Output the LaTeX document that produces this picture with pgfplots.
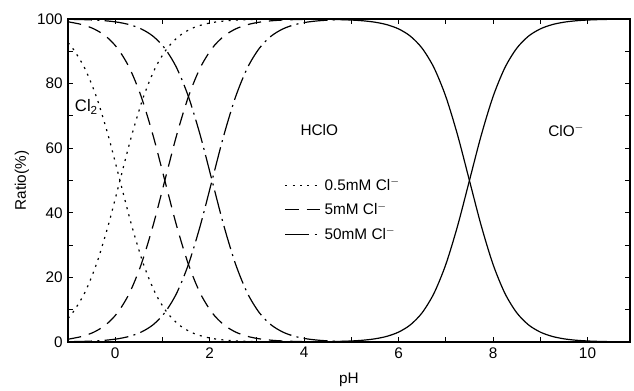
\documentclass[border=0pt]{standalone}
\usepackage{fontspec}
\setmainfont{Liberation Sans}
\usepackage{pgfplots}
\pgfplotsset{compat=1.18}
\begin{document}
\fontsize{11.5}{13}\selectfont
\begin{tikzpicture}
\begin{axis}[
  name=ax,
  scale only axis,
  width=421.5pt, height=242.25pt,
  xmin=-1, xmax=10.9, ymin=0, ymax=100,
  xtick={0,2,4,6,8,10}, minor xtick={-1,1,3,5,7,9},
  ytick={0,20,40,60,80,100}, minor ytick={10,30,50,70,90},
  tick align=inside,
  major tick length=4pt, minor tick length=3.5pt,
  every tick/.style={black, line width=0.8pt},
  axis line style={line width=1pt},
  /pgf/number format/assume math mode=true,
  xlabel={pH}, ylabel={Ratio(\%)},
  xlabel style={at={(axis description cs:0.5,-0.118)}, anchor=center},
  ylabel style={at={(axis description cs:-0.082,0.5)}, anchor=center},
  legend style={at={(axis cs:3.5,52.5)}, anchor=north west, draw=none, fill=none,
     row sep=3.5pt, font=\fontsize{11.5}{13}\selectfont},
  legend cell align=left,
  legend image code/.code={\draw[#1] (0pt,0pt) -- (27pt,0pt);},
  every axis plot/.append style={black, line width=0.9pt, smooth},
]
% 0.5 mM Cl- : Cl2 falling (dotted)
\addplot[dash pattern=on 1.5pt off 4pt] coordinates {
(-1,92.64) (-0.9,90.91) (-0.65,84.90) (-0.4,75.97) (-0.15,64.01) (0.1,50)
(0.35,35.99) (0.6,24.03) (0.85,15.10) (1.1,9.09) (1.35,5.32) (1.6,3.07)
(1.85,1.75) (2.1,0.99) (2.35,0.56) (2.6,0.32) (2.85,0.18) (3.1,0.10)};
\addlegendentry{0.5mM Cl\textsuperscript{$-$}}
% 5 mM Cl- : Cl2 falling (dashed)
\addplot[dash pattern=on 10pt off 6pt] coordinates {
(-1,99.12) (-0.95,99.01) (-0.7,98.25) (-0.45,96.93) (-0.2,94.68) (0.05,90.91)
(0.3,84.90) (0.55,75.97) (0.8,64.01) (1.05,50) (1.3,35.99) (1.55,24.03)
(1.8,15.10) (2.05,9.09) (2.3,5.32) (2.55,3.07) (2.8,1.75) (3.05,0.99)
(3.3,0.56) (3.55,0.32) (3.8,0.18) (4.05,0.10)};
\addlegendentry{5mM Cl\textsuperscript{$-$}}
% 50 mM Cl- : Cl2 falling (dash-dot)
\addplot[dash pattern=on 18pt off 4pt on 1.5pt off 4pt] coordinates {
(-1,99.91) (-0.7,99.82) (-0.45,99.68) (-0.2,99.44) (0.05,99.01) (0.3,98.25)
(0.55,96.93) (0.8,94.68) (1.05,90.91) (1.3,84.90) (1.55,75.97) (1.8,64.01)
(2.05,50) (2.3,35.99) (2.55,24.03) (2.8,15.10) (3.05,9.09) (3.3,5.32)
(3.55,3.07) (3.8,1.75) (4.05,0.99) (4.3,0.56) (4.55,0.32) (4.8,0.18) (5.05,0.10)};
\addlegendentry{50mM Cl\textsuperscript{$-$}}
% HClO rising (dotted)
\addplot[dash pattern=on 1.5pt off 4pt, forget plot] coordinates {
(-1,7.36) (-0.9,9.09) (-0.65,15.10) (-0.4,24.03) (-0.15,35.99) (0.1,50)
(0.35,64.01) (0.6,75.97) (0.85,84.90) (1.1,90.91) (1.35,94.68) (1.6,96.93)
(1.85,98.25) (2.1,99.01) (2.35,99.44) (2.6,99.68) (2.85,99.82) (3.1,99.90)};
% HClO rising (dashed)
\addplot[dash pattern=on 10pt off 6pt, forget plot] coordinates {
(-1,0.88) (-0.95,0.99) (-0.7,1.75) (-0.45,3.07) (-0.2,5.32) (0.05,9.09)
(0.3,15.10) (0.55,24.03) (0.8,35.99) (1.05,50) (1.3,64.01) (1.55,75.97)
(1.8,84.90) (2.05,90.91) (2.3,94.68) (2.55,96.93) (2.8,98.25) (3.05,99.01)
(3.3,99.44) (3.55,99.68) (3.8,99.82) (4.05,99.90)};
% HClO rising (dash-dot)
\addplot[dash pattern=on 18pt off 4pt on 1.5pt off 4pt, forget plot] coordinates {
(-1,0.09) (-0.7,0.18) (-0.45,0.32) (-0.2,0.56) (0.05,0.99) (0.3,1.75)
(0.55,3.07) (0.8,5.32) (1.05,9.09) (1.3,15.10) (1.55,24.03) (1.8,35.99)
(2.05,50) (2.3,64.01) (2.55,75.97) (2.8,84.90) (3.05,90.91) (3.3,94.68)
(3.55,96.93) (3.8,98.25) (4.05,99.01) (4.3,99.44) (4.55,99.68) (4.8,99.82) (5.05,99.90)};
% HClO falling (solid)
\addplot[solid, forget plot] coordinates {
(4.5,99.90) (4.75,99.82) (5,99.68) (5.25,99.44) (5.5,99.01) (5.75,98.25)
(6,96.93) (6.25,94.68) (6.5,90.91) (6.75,84.90) (7,75.97) (7.25,64.01)
(7.5,50) (7.75,35.99) (8,24.03) (8.25,15.10) (8.5,9.09) (8.75,5.32)
(9,3.07) (9.25,1.75) (9.5,0.99) (9.75,0.56) (10,0.32) (10.25,0.18) (10.5,0.10)};
% ClO- rising (solid)
\addplot[solid, forget plot] coordinates {
(4.5,0.10) (4.75,0.18) (5,0.32) (5.25,0.56) (5.5,0.99) (5.75,1.75)
(6,3.07) (6.25,5.32) (6.5,9.09) (6.75,15.10) (7,24.03) (7.25,35.99)
(7.5,50) (7.75,64.01) (8,75.97) (8.25,84.90) (8.5,90.91) (8.75,94.68)
(9,96.93) (9.25,98.25) (9.5,99.01) (9.75,99.44) (10,99.68) (10.25,99.82)
(10.5,99.90) (10.9,99.96)};
\node at (axis cs:-0.61,72.8) {\fontsize{12.5}{14}\selectfont Cl\textsubscript{2}};
\node at (axis cs:4.32,65.6) {HClO};
\node at (axis cs:9.55,65.6) {ClO\textsuperscript{$-$}};
\end{axis}
\pgfresetboundingbox
\path ([xshift=-51pt,yshift=-36pt]ax.south west) rectangle ([xshift=3pt,yshift=14.25pt]ax.north east);
\end{tikzpicture}
\end{document}
